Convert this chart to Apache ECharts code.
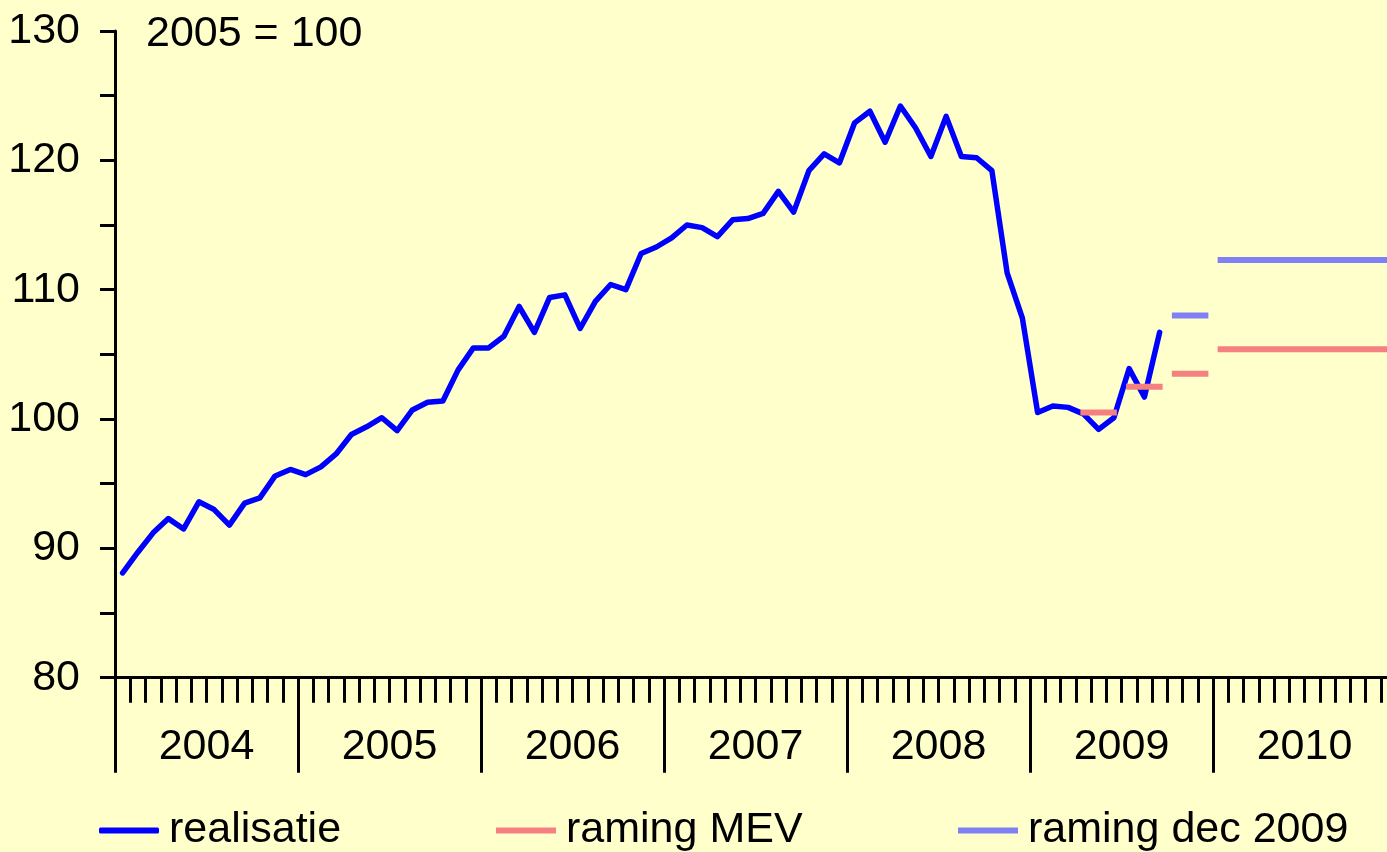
<!DOCTYPE html>
<html>
<head>
<meta charset="utf-8">
<script src="https://cdn.jsdelivr.net/npm/echarts@6/dist/echarts.min.js"></script>
<style>
html,body{margin:0;padding:0;background:#FFFFCC;overflow:hidden;}
#chart{width:1400px;height:852px;}
</style>
</head>
<body>
<div id="chart"></div>
<script>
// ---- data ----
const years = ['2004','2005','2006','2007','2008','2009','2010'];
const yTicks = [80, 90, 100, 110, 120, 130];
const realisatie = [
  88.1, 89.7, 91.2, 92.3, 91.5, 93.6, 93.0, 91.8, 93.5, 93.9, 95.6, 96.1,
  95.7, 96.3, 97.3, 98.8, 99.4, 100.1, 99.1, 100.7, 101.3, 101.4, 103.8, 105.5,
  105.5, 106.4, 108.7, 106.7, 109.4, 109.6, 107.0, 109.1, 110.4, 110.0, 112.8, 113.3,
  114.0, 115.0, 114.8, 114.1, 115.4, 115.5, 115.9, 117.6, 116.0, 119.2, 120.5, 119.8,
  122.9, 123.8, 121.4, 124.2, 122.5, 120.3, 123.4, 120.3, 120.2, 119.2, 111.3, 107.8,
  100.5, 101.0, 100.9, 100.4, 99.2, 100.1, 103.9, 101.7, 106.7
];
// forecast periods: [year, first month, last month]
const mevPeriods = [['2009', 4, 6], ['2009', 7, 9], ['2009', 10, 12], ['2010', 1, 12]];
const mevValues = [100.5, 102.5, 103.5, 105.4];
const decPeriods = [['2009', 10, 12], ['2010', 1, 12]];
const decValues = [108.0, 112.3];

// ---- build ----
const months = [];
years.forEach(y => { for (let m = 1; m <= 12; m++) months.push(y + '-' + (m < 10 ? '0' + m : m)); });

function periodSeries(name, periods, values, color) {
  return periods.map((p, i) => {
    const data = months.map(() => null);
    const yi = years.indexOf(p[0]);
    for (let m = p[1]; m <= p[2]; m++) data[yi * 12 + m - 1] = values[i];
    return {
      name: name, type: 'line', xAxisIndex: 0, yAxisIndex: 0, data: data,
      symbol: 'none', connectNulls: false, silent: true,
      lineStyle: { color: color, width: 6, cap: 'square' },
      itemStyle: { color: color }
    };
  });
}

const FONT = 'Liberation Sans, Arial, sans-serif';
const FS = 43;
const RED = '#F58080';
const BLUE = '#8080F5';

const chart = echarts.init(document.getElementById('chart'), null, { renderer: 'canvas' });

const legendBase = {
  top: 809, padding: 0, itemWidth: 60, itemHeight: 6, selectedMode: false,
  textStyle: { fontSize: FS, fontFamily: FONT, color: '#000', padding: [0, 0, 0, 5] }
};

chart.setOption({
  backgroundColor: '#FFFFCC',
  animation: false,
  grid: { left: 115, top: 31, right: 4, height: 646.7, containLabel: false },
  graphic: [{
    type: 'text', left: 146, top: 13,
    style: { text: '2005 = 100', fontSize: FS, fontFamily: FONT, fill: '#000' }
  }],
  legend: [
    Object.assign({}, legendBase, { left: 99, data: [{ name: 'realisatie', icon: 'roundRect' }] }),
    Object.assign({}, legendBase, { left: 496, data: [{ name: 'raming MEV', icon: 'rect' }] }),
    Object.assign({}, legendBase, { left: 958, data: [{ name: 'raming dec 2009', icon: 'rect' }] })
  ],
  xAxis: [{
    type: 'category', data: months, boundaryGap: true, position: 'bottom',
    axisLine: { show: true, lineStyle: { color: '#000', width: 3 } },
    axisTick: { show: true, interval: 0, length: 25, lineStyle: { color: '#000', width: 3 } },
    axisLabel: { show: false }, splitLine: { show: false }
  }, {
    type: 'category', data: years, boundaryGap: true, position: 'bottom',
    axisLine: { show: false },
    axisTick: { show: true, interval: 0, length: 95, lineStyle: { color: '#000', width: 3 } },
    axisLabel: { show: true, interval: 0, margin: 48, fontSize: FS, fontFamily: FONT, color: '#000', lineHeight: 43 },
    splitLine: { show: false }
  }],
  yAxis: [{
    type: 'value', min: 80, max: 130, interval: 5,
    axisLine: { show: true, lineStyle: { color: '#000', width: 3 } },
    axisTick: { show: true, length: 15, lineStyle: { color: '#000', width: 3 } },
    axisLabel: {
      margin: 35, fontSize: FS, fontFamily: FONT, color: '#000',
      formatter: v => (yTicks.indexOf(v) >= 0 ? String(v) : '')
    },
    splitLine: { show: false }
  }],
  series: [{
    name: 'realisatie', type: 'line', xAxisIndex: 0, yAxisIndex: 0, data: realisatie,
    symbol: 'none', silent: true,
    lineStyle: { color: '#0000FF', width: 5.5, cap: 'round', join: 'round' },
    itemStyle: { color: '#0000FF' }
  }]
  .concat(periodSeries('raming MEV', mevPeriods, mevValues, RED))
  .concat(periodSeries('raming dec 2009', decPeriods, decValues, BLUE))
});
</script>
</body>
</html>
